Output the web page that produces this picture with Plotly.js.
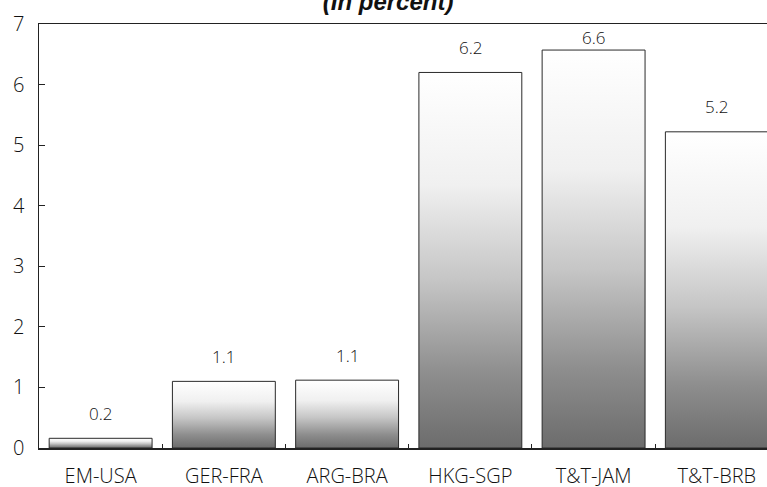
<!DOCTYPE html>
<html>
<head>
<meta charset="utf-8">
<script src="https://cdn.plot.ly/plotly-3.0.1.min.js"></script>
<style>html,body{margin:0;padding:0;background:#fff;}#chart{width:767px;height:487px;}</style>
</head>
<body>
<div id="chart"></div>
<script>
const categories = ["EM-USA", "GER-FRA", "ARG-BRA", "HKG-SGP", "T&T-JAM", "T&T-BRB"];
const values = [0.16, 1.1, 1.12, 6.2, 6.57, 5.22];
const labels = ["0.2", "1.1", "1.1", "6.2", "6.6", "5.2"];
const yTicks = [0, 1, 2, 3, 4, 5, 6, 7];

const FONT = "'Open Sans', Lato, sans-serif";

const trace = {
  type: "bar",
  x: categories,
  y: values,
  width: 0.835,
  marker: {color: "#bbbbbb", line: {color: "#2a2a2a", width: 1}},
  hoverinfo: "skip"
};

const annotations = categories.map((c, i) => ({
  x: c, y: Math.min(values[i] + 0.41, 6.78), xref: "x", yref: "y",
  text: labels[i], showarrow: false, yanchor: "middle",
  font: {family: FONT, size: 17, color: "#111", weight: 300}
}));

const layout = {
  width: 767, height: 487,
  margin: {l: 39, r: 0, t: 24, b: 39, pad: 0},
  paper_bgcolor: "#fff", plot_bgcolor: "#fff",
  showlegend: false,
  title: {
    text: "<b><i>(In percent)</i></b>",
    font: {family: "Liberation Sans, Arial, sans-serif", size: 24, color: "#111"},
    xref: "container", yref: "paper", x: 0.506, y: 1, xanchor: "center", yanchor: "bottom",
    pad: {b: 14}, automargin: false
  },
  xaxis: {
    type: "category",
    range: [-0.5, 5.407],
    tickson: "boundaries",
    ticks: "inside", ticklen: 4, tickcolor: "#222", tickwidth: 1,
    showline: true, linecolor: "#222", linewidth: 1.5, mirror: true,
    showgrid: false, zeroline: false,
    ticklabelstandoff: 9,
    tickfont: {family: FONT, size: 20, color: "#111", weight: 300}
  },
  yaxis: {
    range: [0, 7],
    tickvals: yTicks,
    ticktext: yTicks.map(String),
    ticks: "inside", ticklen: 6, tickcolor: "#222", tickwidth: 1,
    showline: true, linecolor: "#222", linewidth: 1.5,
    showgrid: false, zeroline: false,
    ticklabelstandoff: 9,
    tickfont: {family: FONT, size: 20, color: "#111", weight: 300}
  },
  annotations: annotations,
  bargap: 0.165
};

Plotly.newPlot("chart", [trace], layout, {staticPlot: true, displayModeBar: false}).then(gd => {
  const svg = gd.querySelector("svg.main-svg");
  const ns = "http://www.w3.org/2000/svg";
  let defs = svg.querySelector("defs");
  if (!defs) { defs = document.createElementNS(ns, "defs"); svg.insertBefore(defs, svg.firstChild); }
  const grad = document.createElementNS(ns, "linearGradient");
  grad.setAttribute("id", "barGrad");
  grad.setAttribute("x1", "0"); grad.setAttribute("y1", "0");
  grad.setAttribute("x2", "0"); grad.setAttribute("y2", "1");
  [[0, "#ffffff"], [0.3, "#f0f0f0"], [0.55, "#c6c6c6"], [0.8, "#8e8e8e"], [1, "#6c6c6c"]].forEach(([o, c]) => {
    const s = document.createElementNS(ns, "stop");
    s.setAttribute("offset", o); s.setAttribute("stop-color", c);
    grad.appendChild(s);
  });
  defs.appendChild(grad);
  gd.querySelectorAll(".bars .point path").forEach(p => { p.style.fill = "url(#barGrad)"; });
});
</script>
</body>
</html>
